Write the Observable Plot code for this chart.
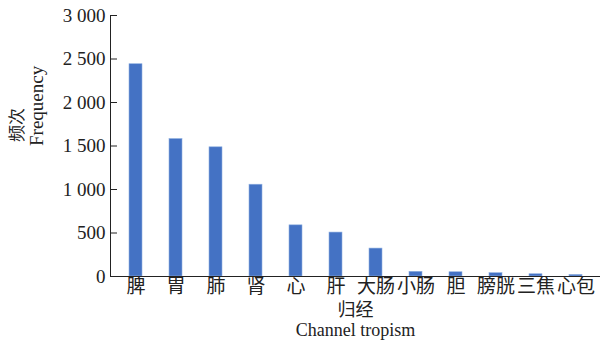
<!DOCTYPE html>
<html>
<head>
<meta charset="utf-8">
<script src="https://cdn.jsdelivr.net/npm/d3@7"></script>
<script src="https://cdn.jsdelivr.net/npm/@observablehq/plot@0.6"></script>
<style>
  body { margin: 0; background: #fff; }
  #chart svg { display: block; }
</style>
</head>
<body>
<div id="chart"></div>
<script>
const categories = ["脾", "胃", "肺", "肾", "心", "肝", "大肠", "小肠", "胆", "膀胱", "三焦", "心包"];
const frequency = [2440, 1580, 1485, 1055, 588, 505, 321, 54, 49, 38, 26, 18];
const yTicks = [0, 500, 1000, 1500, 2000, 2500, 3000];
const yTickLabels = ["0", "500", "1 000", "1 500", "2 000", "2 500", "3 000"];
const yTitle = ["频次", "Frequency"];
const xTitle = ["归经", "Channel tropism"];

const data = categories.map((c, i) => ({category: c, value: frequency[i]}));
const serif = "'Liberation Serif', 'Times New Roman', serif";
const cjk = "'Noto Sans CJK SC', sans-serif";

const chart = Plot.plot({
  width: 602,
  height: 340,
  marginLeft: 110,
  marginRight: 2,
  marginTop: 15,
  marginBottom: 64,
  style: {fontFamily: serif, background: "#fff", color: "#222"},
  x: {domain: categories, paddingInner: 0.68, paddingOuter: 0.32, axis: null},
  y: {domain: [0, 3000], axis: null},
  marks: [
    Plot.barY(data, {x: "category", y: "value", fill: "#4472c4", stroke: "#8fb0e0", strokeWidth: 0.6}),
    Plot.axisY(yTicks, {
      tickSize: -7, tickPadding: 12, tickFormat: (d) => yTickLabels[yTicks.indexOf(d)],
      fontSize: 19, fontFamily: serif, stroke: "#222", fill: "#222", label: null
    }),
    Plot.axisX(categories, {
      tickSize: 0, tickPadding: 3, fontSize: 19, fontFamily: cjk, fill: "#222", label: null
    }),
    Plot.frame({anchor: "left", stroke: "#222"}),
    Plot.ruleY([0], {stroke: "#222"}),
    Plot.text([xTitle[0]], {frameAnchor: "bottom", lineAnchor: "middle", dy: 34, fontSize: 18, fontFamily: cjk, fill: "#222"}),
    Plot.text([xTitle[1]], {frameAnchor: "bottom", lineAnchor: "middle", dy: 54, fontSize: 18, fontFamily: serif, fill: "#222"}),
    Plot.text([yTitle[0]], {frameAnchor: "left", dx: -93, dy: -4, rotate: -90, fontSize: 17, fontFamily: cjk, fill: "#222"}),
    Plot.text([yTitle[1]], {frameAnchor: "left", dx: -74, rotate: -90, fontSize: 19, fontFamily: serif, fill: "#222"})
  ]
});
document.getElementById("chart").appendChild(chart);
</script>
</body>
</html>
